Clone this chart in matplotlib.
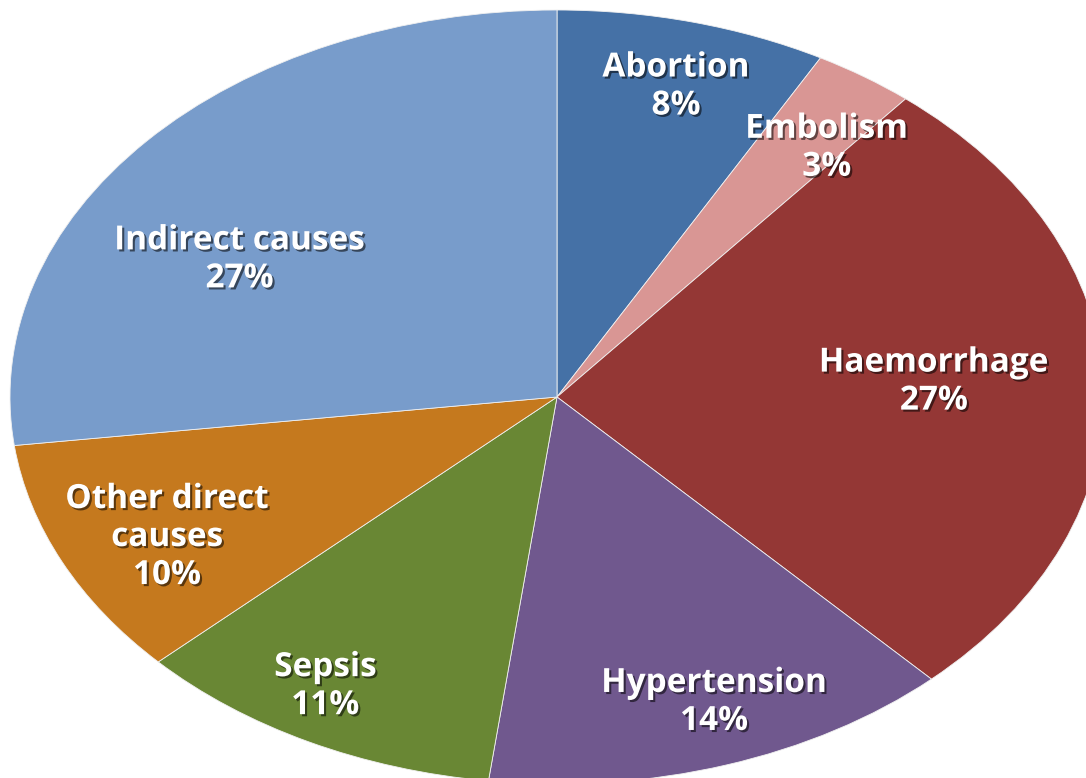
import numpy as np
import matplotlib.pyplot as plt
import matplotlib.patheffects as pe

causes = ['Abortion', 'Embolism', 'Haemorrhage', 'Hypertension', 'Sepsis',
          'Other direct\ncauses', 'Indirect causes']
shares = [8, 3, 27, 14, 11, 10, 27]
colours = ['#4571A6', '#D99694', '#943735', '#70588E', '#698734', '#C5791E', '#789CCB']

# label placement (fraction of radius, angle nudge in degrees)
label_r = [0.83, 0.81, 0.69, 0.84, 0.86, 0.80, 0.68]
label_nudge = [-0.8, -3.3, 1.4, 2, -2.5, 1.8, 10]

fig = plt.figure(figsize=(10.86, 7.78), dpi=100)
ax = fig.add_axes([0, 0, 1, 1])

wedges, _ = ax.pie(shares, colors=colours, startangle=90, counterclock=False,
                   wedgeprops=dict(edgecolor='#f0f0f0', linewidth=0.6))
ax.set_aspect('auto')
ax.set_xlim(-557 / 547, (1086 - 557) / 547)
ax.set_ylim(-381 / 387, 397 / 387)
ax.axis('off')

shadow = [pe.SimplePatchShadow(offset=(1.5, -1.5), shadow_rgbFace='black', alpha=0.55),
          pe.Normal()]

for w, name, val, r, nudge in zip(wedges, causes, shares, label_r, label_nudge):
    mid = np.deg2rad((w.theta1 + w.theta2) / 2 + nudge)
    ax.text(r * np.cos(mid), r * np.sin(mid), f'{name}\n{val}%', ha='center', va='center',
            color='white', fontsize=24, fontweight='bold', family='Open Sans',
            linespacing=1.2, path_effects=shadow)

fig.savefig('out.png', dpi=100)
